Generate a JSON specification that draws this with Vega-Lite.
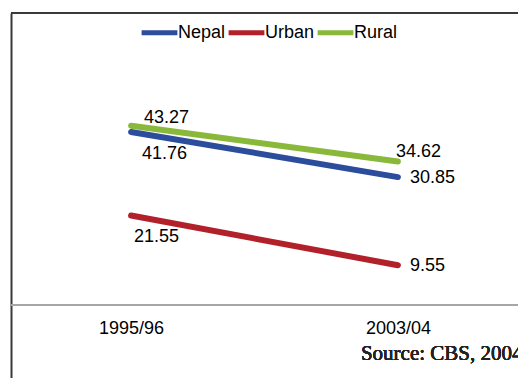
{
  "$schema": "https://vega.github.io/schema/vega-lite/v6.json",
  "width": 507,
  "height": 365,
  "autosize": "none",
  "padding": {"left": 11, "top": 13, "right": 0, "bottom": 0},
  "background": "white",
  "config": {"view": {"stroke": null}},
  "data": {
    "values": [
      {"period": "1995/96", "area": "Nepal", "value": 41.76},
      {"period": "2003/04", "area": "Nepal", "value": 30.85},
      {"period": "1995/96", "area": "Urban", "value": 21.55},
      {"period": "2003/04", "area": "Urban", "value": 9.55},
      {"period": "1995/96", "area": "Rural", "value": 43.27},
      {"period": "2003/04", "area": "Rural", "value": 34.62}
    ]
  },
  "layer": [
    {
      "mark": {"type": "rule", "color": "#a6a6a6", "strokeWidth": 1.5},
      "encoding": {"y": {"datum": 0, "type": "quantitative"}}
    },
    {
      "mark": {"type": "rule", "color": "#3a3a3a", "strokeWidth": 2},
      "encoding": {"y": {"datum": 70.5, "type": "quantitative"}}
    },
    {
      "mark": {"type": "line", "strokeWidth": 6, "strokeCap": "round"},
      "encoding": {
        "x": {
          "field": "period", "type": "ordinal",
          "scale": {"type": "point", "padding": 0.45},
          "axis": {"orient": "bottom", "offset": -50, "domain": false, "ticks": false, "tickSize": 0, "labelPadding": 0, "labelBaseline": "middle", "labelFont": "Liberation Sans", "labelFontSize": 18, "labelColor": "#000", "labelAngle": 0, "title": null, "grid": false}
        },
        "y": {
          "field": "value", "type": "quantitative",
          "scale": {"domain": [-17.7, 70.5], "nice": false, "zero": false},
          "axis": {"orient": "left", "domain": true, "domainColor": "#3a3a3a", "domainWidth": 2, "labels": false, "ticks": false, "grid": false, "title": null}
        },
        "color": {
          "field": "area", "type": "nominal",
          "scale": {"domain": ["Nepal", "Urban", "Rural"], "range": ["#2b4d9c", "#b2202a", "#8ab83a"]},
          "legend": {"orient": "none", "legendX": 128, "legendY": -1, "direction": "horizontal", "title": null, "symbolType": "stroke", "symbolStrokeWidth": 5, "symbolSize": 1280, "labelFont": "Liberation Sans", "labelFontSize": 18, "labelColor": "#000", "labelOffset": -2, "columnPadding": -8, "padding": 0}
        }
      }
    },
    {
      "transform": [{"filter": "datum.area == 'Rural' && datum.period == '1995/96'"}],
      "mark": {"type": "text", "align": "left", "baseline": "middle", "dx": 13, "dy": -8, "font": "Liberation Sans", "fontSize": 18, "color": "#000"},
      "encoding": {"x": {"field": "period", "type": "ordinal"}, "y": {"field": "value", "type": "quantitative"}, "text": {"field": "value", "type": "quantitative", "format": ".2f"}}
    },
    {
      "transform": [{"filter": "datum.area == 'Rural' && datum.period == '2003/04'"}],
      "mark": {"type": "text", "align": "left", "baseline": "middle", "dx": -2, "dy": -9, "font": "Liberation Sans", "fontSize": 18, "color": "#000"},
      "encoding": {"x": {"field": "period", "type": "ordinal"}, "y": {"field": "value", "type": "quantitative"}, "text": {"field": "value", "type": "quantitative", "format": ".2f"}}
    },
    {
      "transform": [{"filter": "datum.area == 'Nepal' && datum.period == '1995/96'"}],
      "mark": {"type": "text", "align": "left", "baseline": "middle", "dx": 11, "dy": 22, "font": "Liberation Sans", "fontSize": 18, "color": "#000"},
      "encoding": {"x": {"field": "period", "type": "ordinal"}, "y": {"field": "value", "type": "quantitative"}, "text": {"field": "value", "type": "quantitative", "format": ".2f"}}
    },
    {
      "transform": [{"filter": "datum.area == 'Urban' && datum.period == '1995/96'"}],
      "mark": {"type": "text", "align": "left", "baseline": "middle", "dx": 3, "dy": 21, "font": "Liberation Sans", "fontSize": 18, "color": "#000"},
      "encoding": {"x": {"field": "period", "type": "ordinal"}, "y": {"field": "value", "type": "quantitative"}, "text": {"field": "value", "type": "quantitative", "format": ".2f"}}
    },
    {
      "transform": [{"filter": "datum.area != 'Rural' && datum.period == '2003/04'"}],
      "mark": {"type": "text", "align": "left", "baseline": "middle", "dx": 12, "dy": 1, "font": "Liberation Sans", "fontSize": 18, "color": "#000"},
      "encoding": {"x": {"field": "period", "type": "ordinal"}, "y": {"field": "value", "type": "quantitative"}, "text": {"field": "value", "type": "quantitative", "format": ".2f"}}
    },
    {
      "mark": {"type": "text", "align": "left", "baseline": "middle", "dx": -37, "font": "Liberation Serif", "fontSize": 21, "fontWeight": "normal", "color": "#222"},
      "encoding": {"x": {"datum": "2003/04", "type": "ordinal"}, "y": {"datum": -12, "type": "quantitative"}, "text": {"value": "Source: CBS, 2004"}}
    }
  ]
}
